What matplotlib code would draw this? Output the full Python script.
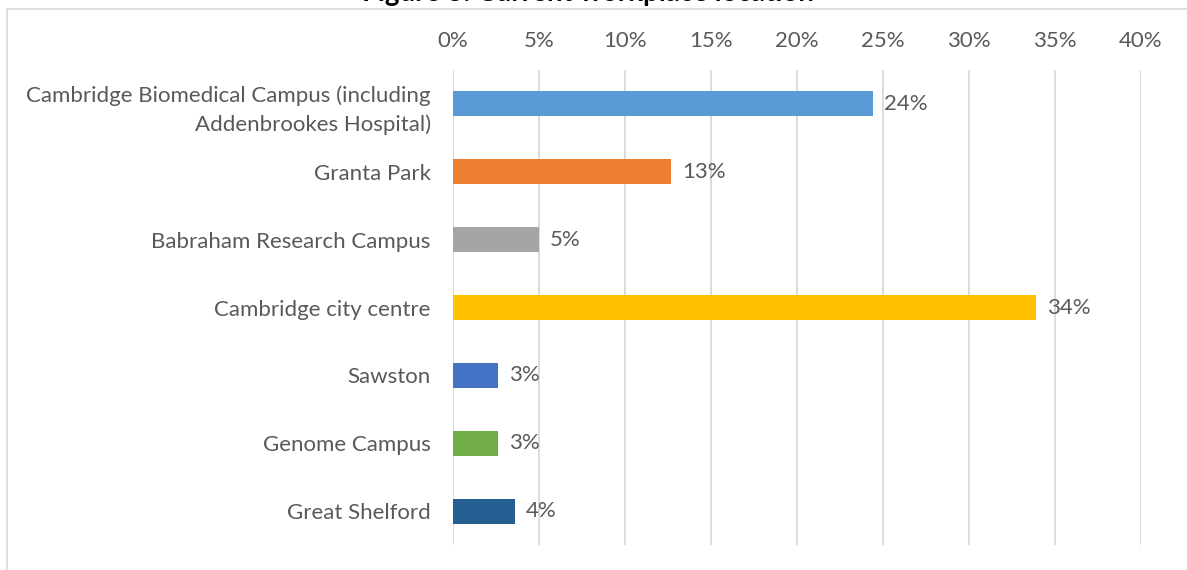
import matplotlib.pyplot as plt
from matplotlib.lines import Line2D

plt.rcParams['font.family'] = ['Lato', 'DejaVu Sans']

categories = ["Cambridge Biomedical Campus (including\nAddenbrookes Hospital)",
              "Granta Park",
              "Babraham Research Campus",
              "Cambridge city centre",
              "Sawston",
              "Genome Campus",
              "Great Shelford"]
values = [24.4, 12.7, 5.0, 33.9, 2.6, 2.6, 3.6]
colors = ['#5B9BD5', '#ED7D31', '#A5A5A5', '#FFC000', '#4472C4', '#70AD47', '#255E91']
ticks = [0, 5, 10, 15, 20, 25, 30, 35, 40]
title = "Figure 3: Current workplace location"

txt = '#595959'

fig = plt.figure(figsize=(11.87, 5.70), dpi=100)
ax = fig.add_axes([453/1187, 25/570, (1141-453)/1187, 475/570])

ypos = list(range(len(categories)))
bars = ax.barh(ypos, values, height=0.37, color=colors, zorder=2)
ax.bar_label(bars, labels=[f"{round(v)}%" for v in values], padding=8,
             color=txt, fontsize=16)

ax.set_ylim(len(categories) - 0.5, -0.5)
ax.set_yticks(ypos)
ax.set_yticklabels(categories, color=txt, fontsize=16, linespacing=1.5)
ax.set_xlim(0, 40)
ax.set_xticks(ticks)
ax.set_xticklabels([f"{t}%" for t in ticks], color=txt, fontsize=16)
ax.xaxis.tick_top()
ax.tick_params(axis='x', length=0, pad=14)
ax.tick_params(axis='y', length=0, pad=16)
ax.grid(axis='x', color='#D9D9D9', linewidth=1.3, zorder=0)
for s in ax.spines.values():
    s.set_visible(False)

# chart area border (top and left visible)
fig.add_artist(Line2D([7/1187, 7/1187], [0, 1 - 9/570], color='#D9D9D9', lw=1.2))
fig.add_artist(Line2D([7/1187, 1], [1 - 9/570, 1 - 9/570], color='#D9D9D9', lw=1.2))

# title, mostly cropped off at the top of the image like in the source
fig.text(0.495, 1 - 1/570, title, ha='center', va='baseline',
         fontsize=20, fontweight='bold', color='black')

fig.savefig('out.png', dpi=100)
